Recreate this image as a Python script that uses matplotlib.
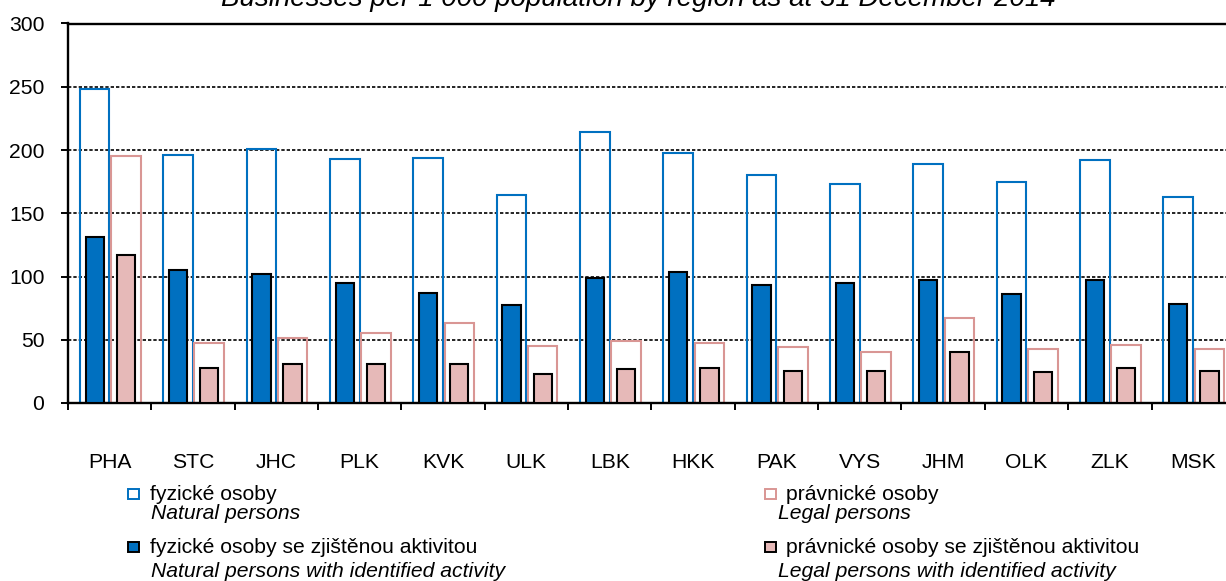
import matplotlib
matplotlib.use("Agg")
import matplotlib.pyplot as plt
from matplotlib.patches import Rectangle

# values
regions = ["PHA", "STC", "JHC", "PLK", "KVK", "ULK", "LBK",
           "HKK", "PAK", "VYS", "JHM", "OLK", "ZLK", "MSK"]
natural = [248, 196, 201, 193, 193.3, 164.8, 214.4,
           197.5, 180.6, 173.5, 189, 175, 192, 163]
legal = [195, 47.7, 51, 55, 63.5, 45.3, 48.8,
         47.5, 44.3, 40, 67, 43, 45.5, 42.5]
natural_active = [131, 105.5, 102, 95, 87.3, 77.8, 99.1,
                  103.6, 93.6, 94.7, 97.6, 86.5, 97, 78]
legal_active = [117, 28, 30.5, 31, 30.9, 23.2, 27.2,
                28, 25.6, 25.6, 40.6, 24.8, 28, 25.6]

title = "Businesses per 1 000 population by region as at 31 December 2014"
legend_items = [
    ("fyzické osoby", "Natural persons"),
    ("právnické osoby", "Legal persons"),
    ("fyzické osoby se zjištěnou aktivitou", "Natural persons with identified activity"),
    ("právnické osoby se zjištěnou aktivitou", "Legal persons with identified activity"),
]

BLUE = "#0070C0"
PINK_EDGE = "#D99694"
PINK_FILL = "#E6B9B8"
FS = 15.2

plt.rcParams["font.family"] = ["Liberation Sans", "DejaVu Sans"]

W, H = 1226, 581
fig = plt.figure(figsize=(W / 100, H / 100), dpi=100)
# axes run past the right edge of the picture, as in the original
ax = fig.add_axes([68 / W, 1 - 403 / H, 83.35 * 14 / W, (403 - 23.5) / H])

x = list(range(len(regions)))
off_n, off_l = -0.18, 0.195
wide, narrow = 0.355, 0.22

ax.bar([i + off_n for i in x], natural, width=wide, facecolor="none",
       edgecolor=BLUE, linewidth=1.5, zorder=2)
ax.bar([i + off_l for i in x], legal, width=wide, facecolor="none",
       edgecolor=PINK_EDGE, linewidth=1.5, zorder=2)
ax.bar([i + off_n for i in x], natural_active, width=narrow, facecolor=BLUE,
       edgecolor="black", linewidth=1.5, zorder=3)
ax.bar([i + off_l for i in x], legal_active, width=narrow, facecolor=PINK_FILL,
       edgecolor="black", linewidth=1.5, zorder=3)

ax.set_xlim(-0.5, len(regions) - 0.5)
ax.set_ylim(0, 300)
ax.set_yticks(range(0, 301, 50))
ax.yaxis.grid(True, color="black", linestyle=(0, (2, 1.2)), linewidth=1.2, zorder=0)
ax.set_axisbelow(True)

# boundary ticks (major, no labels) and region names at centres (minor)
ax.set_xticks([i - 0.5 for i in range(len(regions) + 1)])
ax.set_xticklabels([])
ax.set_xticks(x, minor=True)
ax.set_xticklabels(regions, minor=True)
ax.tick_params(axis="x", which="major", length=5, width=1.4, direction="out")
ax.tick_params(axis="x", which="minor", length=0, pad=36, labelsize=FS)
ax.tick_params(axis="y", length=5, width=1.4, direction="out", pad=12, labelsize=FS)

for s in ["left", "bottom", "top"]:
    ax.spines[s].set_linewidth(1.7)
    ax.spines[s].set_color("black")
ax.spines["right"].set_visible(False)

# title sits partly above the top edge, as in the reference
fig.text(638 / W, 1 - 6 / H, title, ha="center", va="baseline",
         fontsize=20, style="italic")

# hand-made legend: two columns, two lines per entry
col_marker = [128, 765]
col_text = [(150, 150.7), (786, 778)]
rows = [(500, 519), (553, 577)]
styles = [
    dict(facecolor="white", edgecolor=BLUE),
    dict(facecolor="white", edgecolor=PINK_EDGE),
    dict(facecolor=BLUE, edgecolor="black"),
    dict(facecolor=PINK_FILL, edgecolor="black"),
]
for k, (cz, en) in enumerate(legend_items):
    col, row = k % 2, k // 2
    y1, y2 = rows[row]
    fig.add_artist(Rectangle((col_marker[col] / W, 1 - (y1 - 1) / H), 10.5 / W, 10.5 / H,
                             transform=fig.transFigure, linewidth=1.4, **styles[k]))
    fig.text(col_text[col][0] / W, 1 - y1 / H, cz, fontsize=FS, va="baseline")
    fig.text(col_text[col][1] / W, 1 - y2 / H, en, fontsize=FS, va="baseline",
             style="italic")

fig.savefig("out.png", dpi=100)
